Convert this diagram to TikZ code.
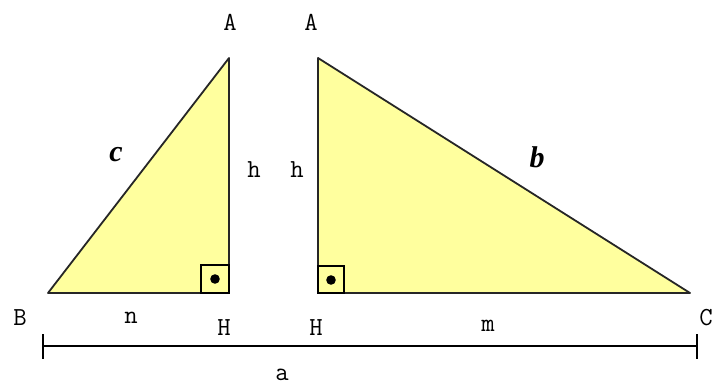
\documentclass[tikz,border=0pt]{standalone}
\usepackage{fontspec}
\setmainfont{Liberation Serif}
\usepackage{tikz}
\usetikzlibrary{calc}
\definecolor{paleyellow}{RGB}{255,255,158}

\begin{document}
\begin{tikzpicture}[
  x=0.5pt,y=-0.5pt,
  tri/.style={draw=black!85,line width=0.9pt,fill=paleyellow,line join=round},
  rbox/.style={draw=black,line width=1.1pt},
  lbl/.style={font=\ttfamily\fontsize{13}{14}\selectfont,inner sep=0pt},
  side/.style={font=\bfseries\itshape\fontsize{15}{16}\selectfont,inner sep=0pt}
]
\useasboundingbox (0,0) rectangle (715,385);

% --- left: triangle ABH ---
\coordinate (B)  at (48,293);
\coordinate (H1) at (229,293);
\coordinate (A1) at (229,58);
\draw[tri] (B) -- (H1) -- (A1) -- cycle;
\draw[rbox] (H1) rectangle ++(-28,-28);
\fill ($(H1)+(-14,-14)$) circle (2.4pt);

% --- right: triangle AHC ---
\coordinate (H2) at (318,293);
\coordinate (A2) at (318,58);
\coordinate (C)  at (690,293);
\draw[tri] (A2) -- (H2) -- (C) -- cycle;
\draw[rbox] (H2) rectangle ++(26,-27);
\fill ($(H2)+(13,-13)$) circle (2.4pt);

% --- vertex and side labels ---
\node[lbl] (lA1) at (230,22)  {A};
\node[lbl] (lA2) at (311,22)  {A};
\node[lbl] (lB)  at (20,318)  {B};
\node[lbl] (lH1) at (224,328) {H};
\node[lbl] (lH2) at (316,328) {H};
\node[lbl] (lC)  at (706,318) {C};
\node[lbl] (ln)  at (131,318) {n};
\node[lbl] (lm)  at (488,326) {m};
\node[lbl] (lh1) at (254,170) {h};
\node[lbl] (lh2) at (297,170) {h};
\node[side] (lc) at (116,155) {c};
\node[side] (lb) at (537,157) {b};

% --- dimension line a ---
\coordinate (dl) at (43,346);
\coordinate (dr) at (697,346);
\draw[line width=0.7pt] (dl) -- (dr);
\draw[line width=0.7pt] ($(dl)+(0,-12)$) -- ($(dl)+(0,13)$)
                        ($(dr)+(0,-12)$) -- ($(dr)+(0,13)$);
\node[lbl] (la) at (282,375) {a};
\end{tikzpicture}
\end{document}
